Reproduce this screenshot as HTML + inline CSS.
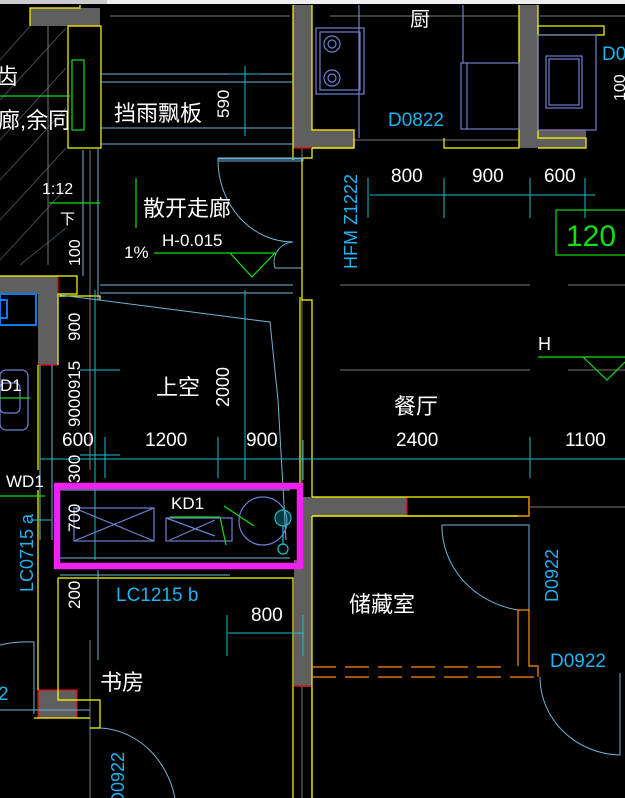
<!DOCTYPE html>
<html><head><meta charset="utf-8"><style>
html,body{margin:0;padding:0;background:#000;}
svg{display:block;}
text{font-family:"Liberation Sans","Noto Sans CJK SC",sans-serif;}
.w{fill:#fff;}
.c{fill:#1eb4f0;}
</style></head><body>
<svg width="625" height="798" viewBox="0 0 625 798" xmlns="http://www.w3.org/2000/svg">
<rect width="625" height="798" fill="#000"/>
<rect x="0" y="0" width="625" height="4" fill="#eee"/>
<rect x="0" y="0" width="107" height="4" fill="#ccc"/>

<!-- hatching left top -->
<g stroke="#3a4a55" stroke-width="1">
<line x1="0" y1="60" x2="30" y2="26"/><line x1="0" y1="100" x2="66" y2="28"/>
<line x1="0" y1="140" x2="66" y2="68"/><line x1="0" y1="180" x2="66" y2="108"/>
<line x1="0" y1="220" x2="66" y2="148"/><line x1="0" y1="260" x2="66" y2="188"/>
<line x1="20" y1="265" x2="66" y2="228"/>
</g>
<g stroke="#777" stroke-width="1">
<line x1="48" y1="26" x2="48" y2="265"/>
<line x1="0" y1="276" x2="625" y2="276" stroke="none"/>
<line x1="110" y1="16" x2="290" y2="16"/>
<line x1="90" y1="150" x2="90" y2="470"/>
<line x1="330" y1="16" x2="519" y2="16"/>
<line x1="540" y1="16" x2="625" y2="16"/>
<line x1="340" y1="285" x2="530" y2="285"/><line x1="568" y1="285" x2="625" y2="285"/>
<line x1="340" y1="370" x2="530" y2="370"/><line x1="568" y1="370" x2="625" y2="370"/>
<line x1="340" y1="286" x2="625" y2="286" stroke="none"/>
<line x1="340" y1="140" x2="530" y2="140"/>
<line x1="302" y1="5" x2="302" y2="798"/>
<line x1="90" y1="640" x2="90" y2="798"/>
<line x1="530" y1="507" x2="625" y2="507"/>
</g>

<!-- walls gray -->
<g fill="#5f5f5f">
<rect x="30" y="8" width="70" height="18"/>
<rect x="293" y="5" width="19" height="143"/>
<rect x="312" y="130" width="42" height="18"/>
<rect x="519" y="5" width="19" height="143"/>
<rect x="538" y="130" width="48" height="18"/>
<rect x="0" y="276" width="58" height="18"/>
<rect x="38" y="294" width="20" height="71"/>
<rect x="298" y="497" width="14" height="190"/>
<rect x="312" y="497" width="95" height="19"/>
<rect x="294" y="560" width="18" height="126"/>
<rect x="38" y="690" width="39" height="28"/>
</g>
<!-- red wall ends -->
<g stroke="#e00" stroke-width="1.2" fill="none">
<line x1="68" y1="26" x2="100" y2="26"/>
<line x1="293" y1="148" x2="312" y2="148"/>
<line x1="312" y1="130" x2="354" y2="130"/><line x1="354" y1="130" x2="354" y2="148"/>
<line x1="538" y1="130" x2="586" y2="130"/><line x1="519" y1="148" x2="519" y2="130"/>
<line x1="407" y1="497" x2="407" y2="516"/>
<line x1="58" y1="276" x2="58" y2="294"/><line x1="38" y1="365" x2="58" y2="365"/>
<rect x="38" y="690" width="39" height="28"/>
<line x1="294" y1="686" x2="312" y2="686"/>
<line x1="312" y1="668" x2="312" y2="678"/>
</g>
<!-- yellow outlines -->
<g stroke="#ff0" stroke-width="1.2" fill="none">
<polyline points="30,26 30,8 80,8 80,5"/>
<rect x="68" y="26" width="33" height="122"/>
<line x1="293" y1="5" x2="293" y2="160"/>
<polyline points="312,5 312,130 354,130 354,148 312,148"/>
<polyline points="354,138 354,148 312,148"/>
<polyline points="444,138 444,148 519,148 519,5"/>
<polyline points="538,5 538,138 586,138 586,148 538,148"/>
<rect x="538" y="26" width="66" height="9"/>
<polyline points="0,276 77,276 77,294 58,294 58,365"/>
<polyline points="59,296 100,296 100,300"/>
<line x1="38" y1="365" x2="38" y2="470"/>
<line x1="38" y1="490" x2="38" y2="690"/>
<polyline points="312,148 312,158 302,158 302,300 312,300 312,497"/>
<polyline points="300,297 300,485"/>
<polyline points="312,516 312,798"/>
<polyline points="312,497 529,497 529,516 520,516 312,516"/>
<line x1="312" y1="516" x2="518" y2="516"/>
<polyline points="58,578 58,700 100,700 100,728 90,728"/>
<polyline points="58,578 293,578 293,798"/>
<line x1="34" y1="718" x2="90" y2="718"/>
<line x1="312" y1="687" x2="312" y2="798"/>
</g>
<!-- blue fixtures -->
<g stroke="#0a7cf0" stroke-width="2" fill="none">
<rect x="0" y="294" width="36" height="31"/>
<rect x="0" y="300" width="7" height="18"/>
</g>
<g stroke="#7080d0" stroke-width="1.2" fill="none">
<rect x="316" y="28" width="48" height="66"/>
<rect x="320" y="32" width="40" height="58"/>
<circle cx="332" cy="44" r="8"/><circle cx="332" cy="44" r="4"/>
<circle cx="332" cy="78" r="8"/><circle cx="332" cy="78" r="4"/>
<rect x="461" y="63" width="58" height="66"/>
<line x1="467" y1="63" x2="467" y2="129"/>
<line x1="463" y1="5" x2="463" y2="63"/>
<line x1="359" y1="5" x2="359" y2="138"/>
<rect x="538" y="35" width="58" height="95"/>
<rect x="546" y="56" width="36" height="52"/>
<rect x="549" y="59" width="30" height="46"/>
<rect x="0" y="370" width="28" height="60" rx="6"/>
<rect x="0" y="383" width="20" height="30" rx="5"/>
</g>
<g stroke="#6fb4d8" stroke-width="1" fill="none">
<line x1="100" y1="74" x2="293" y2="74"/>
<line x1="100" y1="82" x2="293" y2="82"/>
<line x1="100" y1="128" x2="293" y2="128"/>
<line x1="100" y1="144" x2="293" y2="144"/>
<line x1="98" y1="148" x2="98" y2="300"/>
<line x1="83" y1="150" x2="83" y2="276"/>
<line x1="218" y1="159" x2="303" y2="159"/>
<path d="M218 160 A75 82 0 0 0 293 242"/>
<path d="M293 242 A20 20 0 0 0 275 268 L302 268"/>
<rect x="218" y="158" width="85" height="3"/>
<line x1="100" y1="285" x2="293" y2="285"/>
<line x1="100" y1="293" x2="293" y2="293"/>
<polyline points="60,295 270,322 278,400 286,540"/>
<line x1="40" y1="365" x2="40" y2="540"/>
<line x1="52" y1="365" x2="52" y2="540"/>
<line x1="60" y1="490" x2="290" y2="490"/>
<line x1="60" y1="558" x2="290" y2="558"/>
<path d="M442 525 A92 85 0 0 0 518 610 L529 610 L529 525 L442 525 Z"/>
<path d="M540 677 A82 78 0 0 0 620 755 L620 673"/>
<path d="M0 645 A100 90 0 0 1 30 642 L34 642 L34 714"/>
<path d="M100 728 A80 90 0 0 1 175 798"/>
<line x1="0" y1="710" x2="90" y2="710"/>
<line x1="60" y1="575" x2="230" y2="575"/>
<line x1="98" y1="570" x2="98" y2="660"/>
</g>
<!-- cyan dimension lines -->
<g stroke="#16c0d0" stroke-width="1" fill="none">
<line x1="245" y1="66" x2="245" y2="136"/>
<line x1="230" y1="74" x2="262" y2="74"/>
<line x1="370" y1="195" x2="595" y2="195"/>
<line x1="368" y1="178" x2="368" y2="218"/><line x1="444" y1="178" x2="444" y2="218"/>
<line x1="530" y1="178" x2="530" y2="218"/><line x1="585" y1="178" x2="585" y2="218"/>
<line x1="40" y1="459" x2="625" y2="459"/>
<line x1="95" y1="290" x2="95" y2="560"/>
<line x1="245" y1="290" x2="245" y2="480"/>
<line x1="105" y1="437" x2="105" y2="478"/>
<line x1="218" y1="437" x2="218" y2="478"/>
<line x1="303" y1="440" x2="303" y2="480"/>
<line x1="530" y1="437" x2="530" y2="478"/>
<line x1="80" y1="370" x2="120" y2="370"/>
<line x1="80" y1="455" x2="120" y2="455"/>
<line x1="228" y1="633" x2="304" y2="633"/>
<line x1="227" y1="615" x2="227" y2="656"/>
<line x1="303" y1="615" x2="303" y2="656"/>
<line x1="30" y1="520" x2="52" y2="520"/>
</g>
<!-- green -->
<g stroke="#10e010" stroke-width="1.2" fill="none">
<rect x="72" y="60" width="12" height="70"/>
<line x1="0" y1="96" x2="70" y2="96"/>
<line x1="49" y1="203" x2="100" y2="203"/>
<line x1="136" y1="178" x2="136" y2="228"/>
<polyline points="154,253 275,253 252,277 230,253"/>
<rect x="556" y="210" width="70" height="45"/>
<polyline points="538,357 625,357"/>
<polyline points="583,357 607,380 625,362"/>
<line x1="0" y1="398" x2="30" y2="398"/>
<line x1="0" y1="496" x2="45" y2="496"/>
<line x1="224" y1="506" x2="254" y2="526"/>
<polyline points="170,517 220,517 226,545"/>
</g>
<!-- KD1 box content -->
<g stroke="#7080d0" stroke-width="1.2" fill="none">
<rect x="74" y="508" width="80" height="33"/>
<line x1="74" y1="508" x2="154" y2="541"/><line x1="154" y1="508" x2="74" y2="541"/>
<rect x="166" y="518" width="66" height="23"/>
<line x1="166" y1="518" x2="215" y2="536"/><line x1="215" y1="520" x2="170" y2="540"/>
<circle cx="263" cy="521" r="24"/>
</g>
<g stroke="#16c0d0" stroke-width="1.2" fill="#16c0d0" fill-opacity="0.3">
<circle cx="283" cy="518" r="8"/>
<line x1="283" y1="526" x2="283" y2="545"/>
<circle cx="283" cy="549" r="5" fill="none"/>
</g>
<!-- orange storage -->
<g stroke="#ff8c00" stroke-width="1.2" fill="none">
<polyline points="518,516 529,516 529,497"/>
<polyline points="518,610 529,610 529,666 538,666 538,677"/>
<line x1="518" y1="610" x2="518" y2="666"/>
<line x1="312" y1="667" x2="510" y2="667" stroke-dasharray="24,9"/>
<line x1="312" y1="677" x2="538" y2="677" stroke-dasharray="24,9"/>
</g>
<!-- magenta rect -->
<rect x="57" y="486" width="243" height="80" fill="none" stroke="#f020f0" stroke-width="6.5"/>

<!-- texts white -->
<g class="w">
<text x="-4" y="84" font-size="22">齿</text>
<text x="-2" y="128" font-size="22">廊,余同</text>
<text x="114" y="121" font-size="22">挡雨飘板</text>
<text x="143" y="216" font-size="22">散开走廊</text>
<text x="162" y="246" font-size="17">H-0.015</text>
<text x="124" y="258" font-size="17">1%</text>
<text x="42" y="194" font-size="16">1:12</text>
<text x="60" y="224" font-size="15">下</text>
<text x="410" y="26" font-size="20">厨</text>
<text x="391" y="182" font-size="19">800</text>
<text x="472" y="182" font-size="19">900</text>
<text x="544" y="182" font-size="19">600</text>
<text x="538" y="350" font-size="18">H</text>
<text x="156" y="395" font-size="22">上空</text>
<text x="394" y="414" font-size="22">餐厅</text>
<text x="62" y="446" font-size="19">600</text>
<text x="145" y="446" font-size="19">1200</text>
<text x="246" y="446" font-size="19">900</text>
<text x="396" y="446" font-size="19">2400</text>
<text x="565" y="446" font-size="19">1100</text>
<text x="171" y="509" font-size="17">KD1</text>
<text x="6" y="487" font-size="17">WD1</text>
<text x="0" y="391" font-size="17">D1</text>
<text x="251" y="621" font-size="19">800</text>
<text x="100" y="690" font-size="22">书房</text>
<text x="349" y="612" font-size="22">储藏室</text>
<text transform="translate(229,118) rotate(-90)" font-size="17">590</text>
<text transform="translate(80,266) rotate(-90)" font-size="16">100</text>
<text transform="translate(80,341) rotate(-90)" font-size="17">900</text>
<text transform="translate(80,427) rotate(-90)" font-size="17">9000915</text>
<text transform="translate(229,407) rotate(-90)" font-size="18">2000</text>
<text transform="translate(80,483) rotate(-90)" font-size="17">300</text>
<text transform="translate(80,532) rotate(-90)" font-size="17">700</text>
<text transform="translate(80,609) rotate(-90)" font-size="17">200</text>
<text transform="translate(625,101) rotate(-90)" font-size="16">100</text>
</g>
<g class="c">
<text x="388" y="126" font-size="19">D0822</text>
<text x="602" y="60" font-size="19">D0</text>
<text transform="translate(357,269) rotate(-90)" font-size="18">HFM Z1222</text>
<text x="116" y="601" font-size="19">LC1215 b</text>
<text transform="translate(33,592) rotate(-90)" font-size="18">LC0715 a</text>
<text transform="translate(558,602) rotate(-90)" font-size="18">D0922</text>
<text x="550" y="667" font-size="19">D0922</text>
<text transform="translate(124,805) rotate(-90)" font-size="18">D0922</text>
<text x="-2" y="700" font-size="19">2</text>
</g>
<text x="566" y="246" font-size="30" fill="#10e010">120</text>
</svg>
</body></html>
